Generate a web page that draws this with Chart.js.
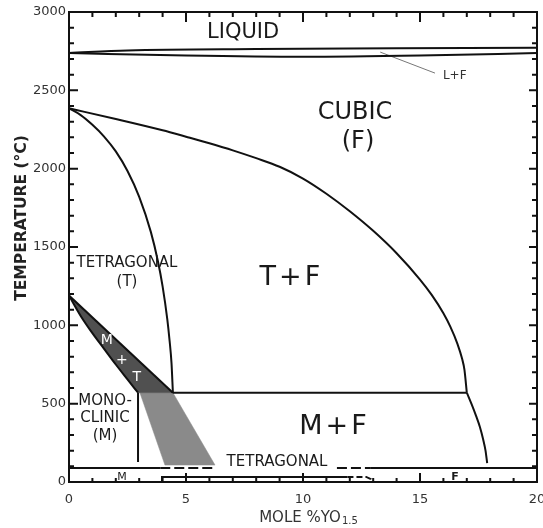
<!DOCTYPE html>
<html>
<head>
<meta charset="utf-8">
<script src="https://cdn.jsdelivr.net/npm/chart.js@4.4.0/dist/chart.umd.min.js"></script>
<style>
  html, body { margin: 0; padding: 0; background: #fff; }
</style>
</head>
<body>
<canvas id="diagram" width="543" height="528"></canvas>
<script>
// axis ticks
const xTicks = [0, 5, 10, 15, 20];
const yTicks = [0, 500, 1000, 1500, 2000, 2500, 3000];

// phase boundaries, [mole % YO1.5, temperature C]
const liquidus = [[0, 2738], [2.5, 2755], [8, 2764], [14, 2768], [20, 2772]];
const solidus = [[0, 2738], [5, 2722], [10, 2714], [15, 2722], [20, 2738]];
const cubicSolvus = [[0, 2385], [2, 2317], [4, 2245], [5, 2204], [6, 2162], [7, 2117], [8, 2067], [9, 2012],
    [10, 1937], [11, 1840], [12, 1728], [13, 1603], [14, 1460], [15, 1292], [15.5, 1194], [16, 1077],
    [16.3, 990], [16.6, 882], [16.8, 786], [16.9, 716], [17.0, 570]];
const cubicLow = [[17.0, 570], [17.2, 498], [17.4, 420], [17.56, 351], [17.7, 271], [17.8, 200], [17.87, 121]];
const tetraSolvus = [[0, 2385], [0.5, 2342], [1.0, 2280], [1.5, 2205], [2.0, 2110], [2.5, 1985], [3.0, 1820],
    [3.5, 1595], [3.8, 1409], [4.0, 1249], [4.2, 1040], [4.3, 900], [4.38, 760], [4.44, 570]];
const mtUpper = [[0, 1190], [4.44, 570]];
const mtLower = [[0, 1190], [0.5, 1060], [1.0, 950], [1.5, 850], [2.0, 750], [2.5, 655], [2.95, 570]];
const metastable = [[3.03, 570], [4.44, 570], [6.24, 108], [4.1, 108], [3.03, 570]];
const monoEdge = [[2.95, 570], [2.95, 128]];
const eutectoid = [[4.44, 570], [17.0, 570]];
const bandLeft = [[0, 89], [3.9, 89]];
const bandDashLeft = [[3.9, 89], [6.2, 89]];
const bandDashRight = [[11.45, 89], [12.9, 89]];
const bandRight = [[12.9, 89], [20, 89]];
const tPrime = [[3.97, 0], [3.97, 32], [11.9, 32]];
const tPrimeEnd = [[11.9, 32], [12.7, 32], [12.9, 18], [12.9, 0]];
const leader = [[13.3, 2744], [15.64, 2610]];

// closed M+T two-phase field
const mtField = mtUpper.concat(mtLower.slice().reverse());

const FONT = 'DejaVu Sans';

function pts(arr) {
    return arr.map(p => ({ x: p[0], y: p[1] }));
}

function line(arr, extra) {
    return Object.assign({
        data: pts(arr),
        showLine: true,
        borderColor: '#111',
        borderWidth: 2,
        pointRadius: 0,
        fill: false,
        order: 1
    }, extra || {});
}

const smooth = { cubicInterpolationMode: 'monotone' };

const datasets = [
    line(mtField, { fill: 'shape', backgroundColor: '#505050', borderColor: '#505050', borderWidth: 0.5, order: 5 }),
    line(metastable, { fill: 'shape', backgroundColor: '#8a8a8a', borderColor: '#8a8a8a', borderWidth: 0.5, order: 5 }),
    line(liquidus, smooth),
    line(solidus, smooth),
    line(cubicSolvus, smooth),
    line(cubicLow, smooth),
    line(tetraSolvus, smooth),
    line(mtUpper),
    line(mtLower, smooth),
    line(monoEdge),
    line(eutectoid),
    line(bandLeft),
    line(bandDashLeft, { borderDash: [10, 4] }),
    line(bandDashRight, { borderDash: [10, 4] }),
    line(bandRight),
    line(tPrime, { borderWidth: 1.8 }),
    line(tPrimeEnd, { borderWidth: 1.8, borderDash: [6, 3] }),
    line(leader, { borderColor: '#777', borderWidth: 1 })
];

// region names, placed in data units
const labels = [
    { t: 'LIQUID', x: 7.44, y: 2866, size: 21 },
    { t: 'CUBIC', x: 12.22, y: 2355, size: 24 },
    { t: '(F)', x: 12.35, y: 2170, size: 24 },
    { t: 'L+F', x: 15.98, y: 2591, size: 12, align: 'left', color: '#333' },
    { t: 'TETRAGONAL', x: 2.48, y: 1398, size: 15 },
    { t: '(T)', x: 2.48, y: 1277, size: 15 },
    { t: 'T+F', x: 9.44, y: 1302, size: 27, spacing: 3 },
    { t: 'M+F', x: 11.28, y: 351, size: 27, spacing: 3 },
    { t: 'M', x: 1.62, y: 906, size: 14, color: '#fff' },
    { t: '+', x: 2.26, y: 779, size: 14, color: '#fff' },
    { t: 'T', x: 2.9, y: 670, size: 14, color: '#fff' },
    { t: 'MONO-', x: 1.54, y: 517, size: 15 },
    { t: 'CLINIC', x: 1.54, y: 408, size: 15 },
    { t: '(M)', x: 1.54, y: 294, size: 15 },
    { t: 'TETRAGONAL', x: 8.89, y: 128, size: 15 },
    { t: 'M', x: 2.26, y: 32, size: 11 },
    { t: 'F', x: 16.5, y: 28, size: 11, weight: 'bold' }
];

const framePlugin = {
    id: 'frame',
    afterDatasetsDraw(chart) {
        const c = chart.ctx;
        const a = chart.chartArea;
        const xs = chart.scales.x;
        const ys = chart.scales.y;
        c.save();
        c.strokeStyle = '#111';
        c.lineWidth = 2;
        c.strokeRect(a.left, a.top, a.right - a.left, a.bottom - a.top);
        c.beginPath();
        for (let v = 1; v < 20; v++) {
            const px = xs.getPixelForValue(v);
            const major = v % 5 === 0;
            c.moveTo(px, a.bottom);
            c.lineTo(px, a.bottom - (major ? 9 : 4));
            c.moveTo(px, a.top);
            c.lineTo(px, a.top + (major ? 10 : 5));
        }
        for (let v = 100; v < 3000; v += 100) {
            const py = ys.getPixelForValue(v);
            const major = v % 500 === 0;
            c.moveTo(a.left, py);
            c.lineTo(a.left + (major ? 9 : 5), py);
            c.moveTo(a.right, py);
            c.lineTo(a.right - (major ? 8 : 5), py);
        }
        c.stroke();

        c.textBaseline = 'middle';
        labels.forEach(l => {
            c.font = (l.weight || 'normal') + ' ' + l.size + 'px "' + FONT + '"';
            c.fillStyle = l.color || '#1a1a1a';
            c.textAlign = l.align || 'center';
            c.letterSpacing = (l.spacing || 0) + 'px';
            const shift = (l.spacing || 0) / 2;
            c.fillText(l.t, xs.getPixelForValue(l.x) + shift, ys.getPixelForValue(l.y));
        });
        c.letterSpacing = '0px';

        // axis titles
        c.fillStyle = '#222';
        c.save();
        c.translate(22, 218);
        c.rotate(-Math.PI / 2);
        c.textAlign = 'center';
        c.font = 'bold 15.5px "' + FONT + '"';
        c.fillText('TEMPERATURE (°C)', 0, 0);
        c.restore();

        c.fillStyle = '#333';
        c.textAlign = 'left';
        c.font = '15px "' + FONT + '"';
        const main = 'MOLE %YO';
        const mw = c.measureText(main).width;
        c.font = '10px "' + FONT + '"';
        const sub = '1.5';
        const sw = c.measureText(sub).width;
        const x0 = 308 - (mw + sw) / 2;
        c.font = '15px "' + FONT + '"';
        c.fillText(main, x0, 518);
        c.font = '10px "' + FONT + '"';
        c.fillText(sub, x0 + mw + 1, 521);
        c.restore();
    }
};

new Chart(document.getElementById('diagram').getContext('2d'), {
    type: 'scatter',
    data: { datasets: datasets },
    options: {
        responsive: false,
        animation: false,
        layout: { padding: { top: 12, right: 6, left: 0, bottom: 0 } },
        plugins: { legend: { display: false }, tooltip: { enabled: false } },
        scales: {
            x: {
                type: 'linear', min: 0, max: 20,
                grid: { display: false, drawTicks: false },
                border: { display: false },
                afterBuildTicks: s => { s.ticks = xTicks.map(v => ({ value: v })); },
                ticks: { padding: 10, color: '#333', font: { family: FONT, size: 13 },
                    callback: v => String(v) },
                afterFit: s => { s.height = 46; s.paddingLeft = 0; s.paddingRight = 0; }
            },
            y: {
                type: 'linear', min: 0, max: 3000,
                grid: { display: false, drawTicks: false },
                border: { display: false },
                afterBuildTicks: s => { s.ticks = yTicks.map(v => ({ value: v })); },
                ticks: { padding: 3, color: '#333', font: { family: FONT, size: 13 },
                    callback: v => String(v) },
                afterFit: s => { s.width = 69; s.paddingTop = 0; s.paddingBottom = 0; }
            }
        }
    },
    plugins: [framePlugin]
});
</script>
</body>
</html>
